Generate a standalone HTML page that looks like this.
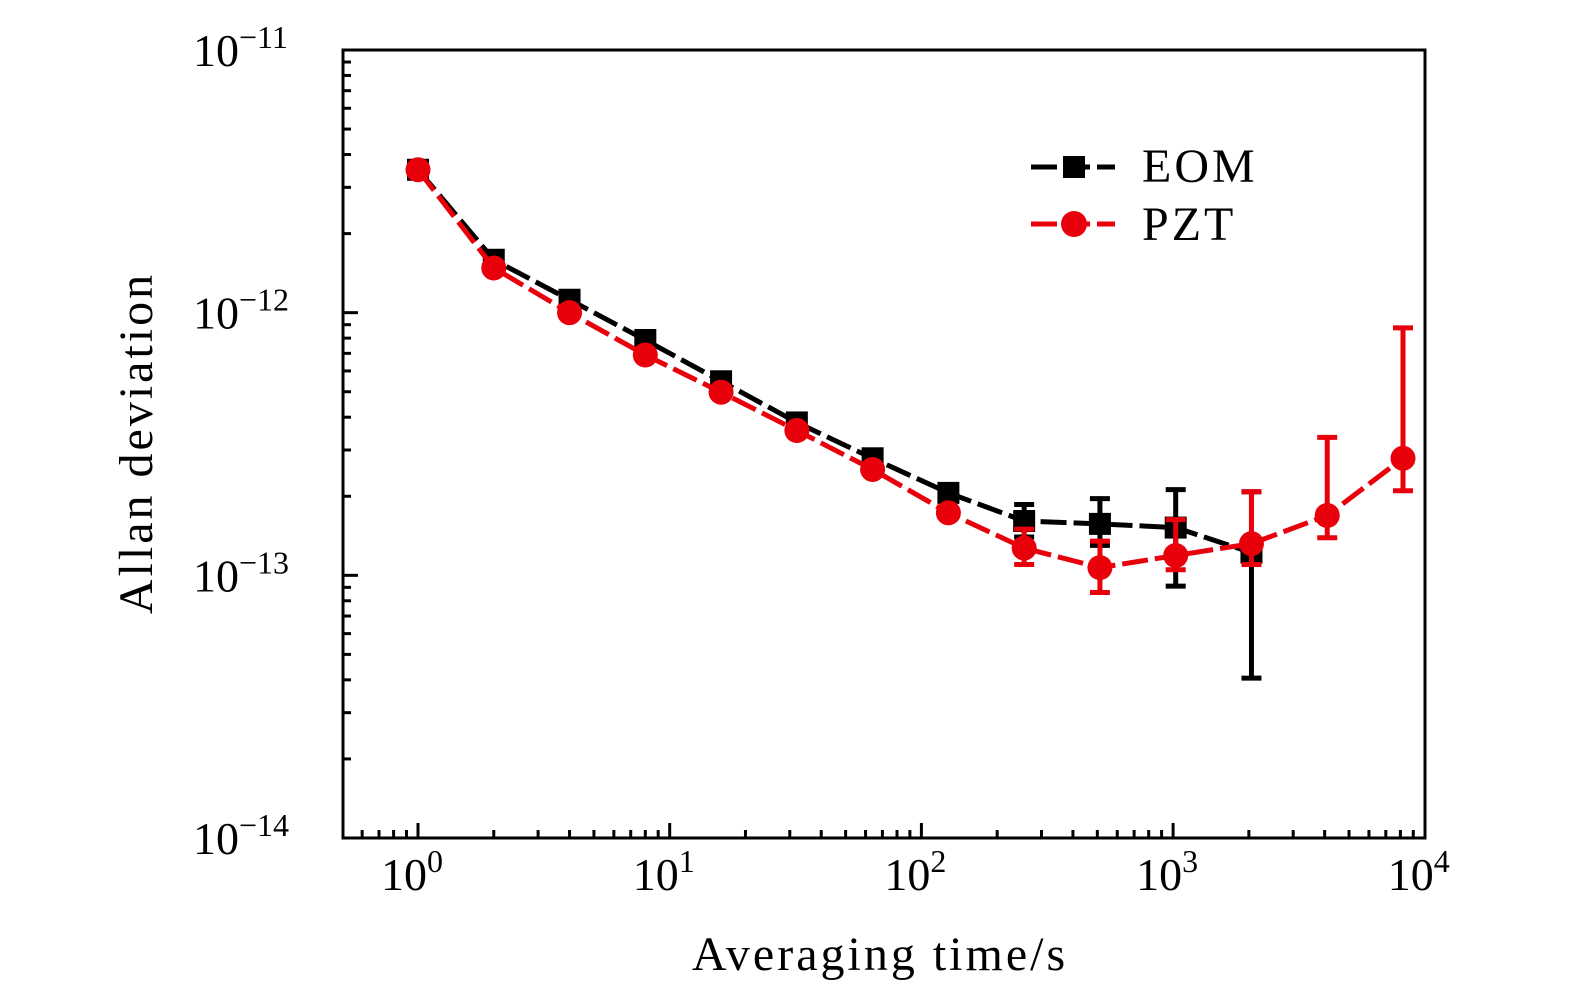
<!DOCTYPE html>
<html><head><meta charset="utf-8"><style>
html,body{margin:0;padding:0;background:#fff;}
svg{display:block;font-family:"Liberation Serif",serif;}
</style></head><body>
<svg id="chart" width="1575" height="996" viewBox="0 0 1575 996" xmlns="http://www.w3.org/2000/svg"></svg>
<script>
const tauEOM = [1,2,4,8,16,32,64,128,256,512,1024,2048];
const eomValues = [3.5e-12,1.59e-12,1.12e-12,7.87e-13,5.48e-13,3.82e-13,2.79e-13,2.06e-13,1.61e-13,1.57e-13,1.52e-13,1.22e-13];
const eomErrHi = [null,null,null,null,null,null,null,null,1.86e-13,1.96e-13,2.12e-13,2.08e-13];
const eomErrLo = [null,null,null,null,null,null,null,null,1.4e-13,1.3e-13,9.1e-14,4.06e-14];
const tauPZT = [1,2,4,8,16,32,64,128,256,512,1024,2048,4096,8192];
const pztValues = [3.5e-12,1.48e-12,1.0e-12,6.9e-13,4.98e-13,3.56e-13,2.53e-13,1.73e-13,1.27e-13,1.07e-13,1.19e-13,1.32e-13,1.69e-13,2.79e-13];
const pztErrHi = [null,null,null,null,null,null,null,null,1.5e-13,1.35e-13,1.63e-13,2.08e-13,3.35e-13,8.75e-13];
const pztErrLo = [null,null,null,null,null,null,null,null,1.1e-13,8.6e-14,1.05e-13,1.1e-13,1.39e-13,2.1e-13];
const xTickExps = [0,1,2,3,4];
const yTickExps = [-11,-12,-13,-14];

const L=343,R=1425,T=50,B=838;
const X0=418, XD=251.7;
const YD=(B-T)/3;
const sx=v=>X0+Math.log10(v)*XD;
const sy=v=>T+(-11-Math.log10(v))*YD;
const NS="http://www.w3.org/2000/svg";
const svg=document.getElementById('chart');
function mk(tag,attrs,parent){const e=document.createElementNS(NS,tag);for(const k in attrs)e.setAttribute(k,attrs[k]);(parent||svg).appendChild(e);return e;}

const frame=mk('rect',{x:L,y:T,width:R-L,height:B-T,fill:'none',stroke:'#000','stroke-width':3});



const xg=mk('g',{});


for(let d=-1;d<=3;d++){for(let m=1;m<=9;m++){const v=m*Math.pow(10,d);const x=sx(v);if(x<L+2||x>R)continue;
 const len=m===1?15:8;mk('line',{x1:x,x2:x,y1:B,y2:B-len,stroke:'#000','stroke-width':3},xg);}}
xTickExps.forEach(e=>{const t=mk('text',{x:sx(Math.pow(10,e))-37,y:890,'font-size':46},xg);
 
 
 t.textContent='10';const s=mk('tspan',{dy:-18,'font-size':32},t);s.textContent=String(e);});
const xt=mk('text',{x:880,y:970,'font-size':48,'text-anchor':'middle','letter-spacing':3},xg);


xt.textContent='Averaging time/s';

const yg=mk('g',{});


for(let d=-14;d<=-12;d++){for(let m=1;m<=9;m++){const v=m*Math.pow(10,d);const y=sy(v);if(y>B-2||y<T)continue;
 const len=m===1?15:8;mk('line',{x1:L,x2:L+len,y1:y,y2:y,stroke:'#000','stroke-width':3},yg);}}
yTickExps.forEach(e=>{const y=sy(Math.pow(10,e));const t=mk('text',{x:193,y:y+16,'font-size':46},yg);
 
 
 t.textContent='10';const s=mk('tspan',{dy:-18,'font-size':32},t);s.textContent='\u2212'+String(-e);});
const yt=mk('text',{x:0,y:0,'font-size':48,'text-anchor':'middle',transform:'translate(152,443) rotate(-90)','letter-spacing':3},yg);


yt.textContent='Allan deviation';

function series(name,taus,vals,hi,lo,color,marker){
 const g=mk('g',{});
 
 
 taus.forEach((t,i)=>{if(hi[i]==null)return;const x=sx(t);
  mk('line',{x1:x,x2:x,y1:sy(hi[i]),y2:sy(lo[i]),stroke:color,'stroke-width':5},g);
  [hi[i],lo[i]].forEach(v=>mk('line',{x1:x-10,x2:x+10,y1:sy(v),y2:sy(v),stroke:color,'stroke-width':5},g));});
 const pts=taus.map((t,i)=>sx(t)+','+sy(vals[i])).join(' ');
 mk('polyline',{points:pts,fill:'none',stroke:color,'stroke-width':5,'stroke-dasharray':'26 7'},g);
 taus.forEach((t,i)=>{const x=sx(t),y=sy(vals[i]);let m;
  if(marker==='sq')m=mk('rect',{x:x-11,y:y-11,width:22,height:22,fill:color},g);
  else m=mk('circle',{cx:x,cy:y,r:12.5,fill:color},g);
  
  });
}
series('eom',tauEOM,eomValues,eomErrHi,eomErrLo,'#000','sq');
series('pzt',tauPZT,pztValues,pztErrHi,pztErrLo,'#e8000b','ci');

const lg=mk('g',{});


mk('line',{x1:1031,x2:1115,y1:167,y2:167,stroke:'#000','stroke-width':5,'stroke-dasharray':'26 7'},lg);
mk('rect',{x:1063,y:156,width:22,height:22,fill:'#000'},lg);
const t1=mk('text',{x:1142,y:182,'font-size':48,'letter-spacing':3},lg);t1.textContent='EOM';


mk('line',{x1:1031,x2:1115,y1:224,y2:224,stroke:'#e8000b','stroke-width':5,'stroke-dasharray':'26 7'},lg);
mk('circle',{cx:1074,cy:224,r:13,fill:'#e8000b'},lg);
const t2=mk('text',{x:1142,y:240,'font-size':48,'letter-spacing':3},lg);t2.textContent='PZT';


</script>
</body></html>
